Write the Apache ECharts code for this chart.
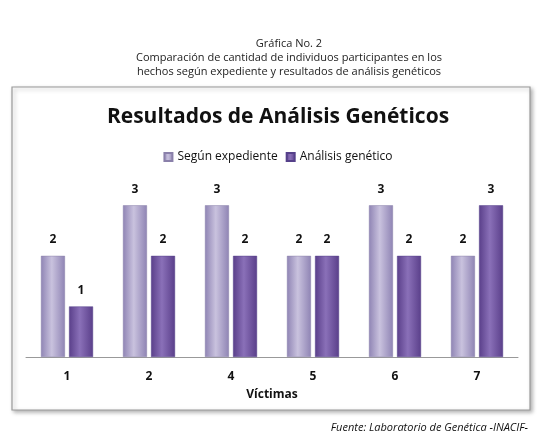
<!DOCTYPE html>
<html><head><meta charset="utf-8">
<script src="https://cdn.jsdelivr.net/npm/echarts@6/dist/echarts.min.js"></script>
<style>html,body{margin:0;background:#fff}#c{width:556px;height:448px}</style>
</head><body><div id="c"></div>
<script>
const categories = ['1','2','4','5','6','7'];
const segunExpediente = [2,3,3,2,3,2];
const analisisGenetico = [1,2,2,2,2,3];
const chart = echarts.init(document.getElementById('c'));
const g = (a,b)=>new echarts.graphic.LinearGradient(0,0,1,0,[{offset:0,color:a},{offset:0.45,color:b},{offset:1,color:a}]);
chart.setOption({
  animation:false,
  graphic:[
    {type:'rect',shape:{x:12,y:87,width:518,height:323},style:{fill:'#fff',stroke:'#9a9a9a',lineWidth:1.2,shadowBlur:4,shadowColor:'rgba(0,0,0,0.3)',shadowOffsetX:2,shadowOffsetY:2},z:-10},
    {type:'text',x:289,y:37,style:{text:'Gráfica No. 2\nComparación de cantidad de individuos participantes en los\nhechos según expediente y resultados de análisis genéticos',align:'center',font:'11px "Open Sans"',lineHeight:14,fill:'#222'}},
    {type:'text',x:272,y:389,style:{text:'Víctimas',align:'center',font:'bold 12px "Open Sans"',fill:'#111'}},
    {type:'text',x:528,y:422,style:{text:'Fuente: Laboratorio de Genética -INACIF-',align:'right',font:'italic 11px "Open Sans"',fill:'#111'}}
  ],
  title:{text:'Resultados de Análisis Genéticos',left:'center',top:102,textStyle:{fontFamily:'Open Sans',fontWeight:'bold',fontSize:21,color:'#111'}},
  legend:{top:146,left:'center',itemWidth:8,itemHeight:8,icon:'rect',textStyle:{fontFamily:'Open Sans',fontSize:12,color:'#111'},data:['Según expediente','Análisis genético']},
  grid:{left:26,right:38,top:180,bottom:91},
  xAxis:{type:'category',data:categories,axisTick:{show:false},axisLine:{lineStyle:{color:'#999'}},axisLabel:{margin:14,fontFamily:'Open Sans',fontSize:12,fontWeight:'bold',color:'#111'}},
  yAxis:{type:'value',min:0,max:3.5,show:false,splitLine:{show:false}},
  series:[
    {name:'Según expediente',type:'bar',data:segunExpediente,barWidth:24,barGap:'17%',itemStyle:{color:g('#8f84b4','#c9c2de'),borderColor:'#8a80aa',borderWidth:0.5},label:{show:true,position:'top',distance:10,fontFamily:'Open Sans',fontWeight:'bold',fontSize:12,color:'#111'}},
    {name:'Análisis genético',type:'bar',data:analisisGenetico,barWidth:24,itemStyle:{color:g('#5a3f8a','#8a70b8'),borderColor:'#55408a',borderWidth:0.5},label:{show:true,position:'top',distance:10,fontFamily:'Open Sans',fontWeight:'bold',fontSize:12,color:'#111'}}
  ]
});
</script></body></html>
